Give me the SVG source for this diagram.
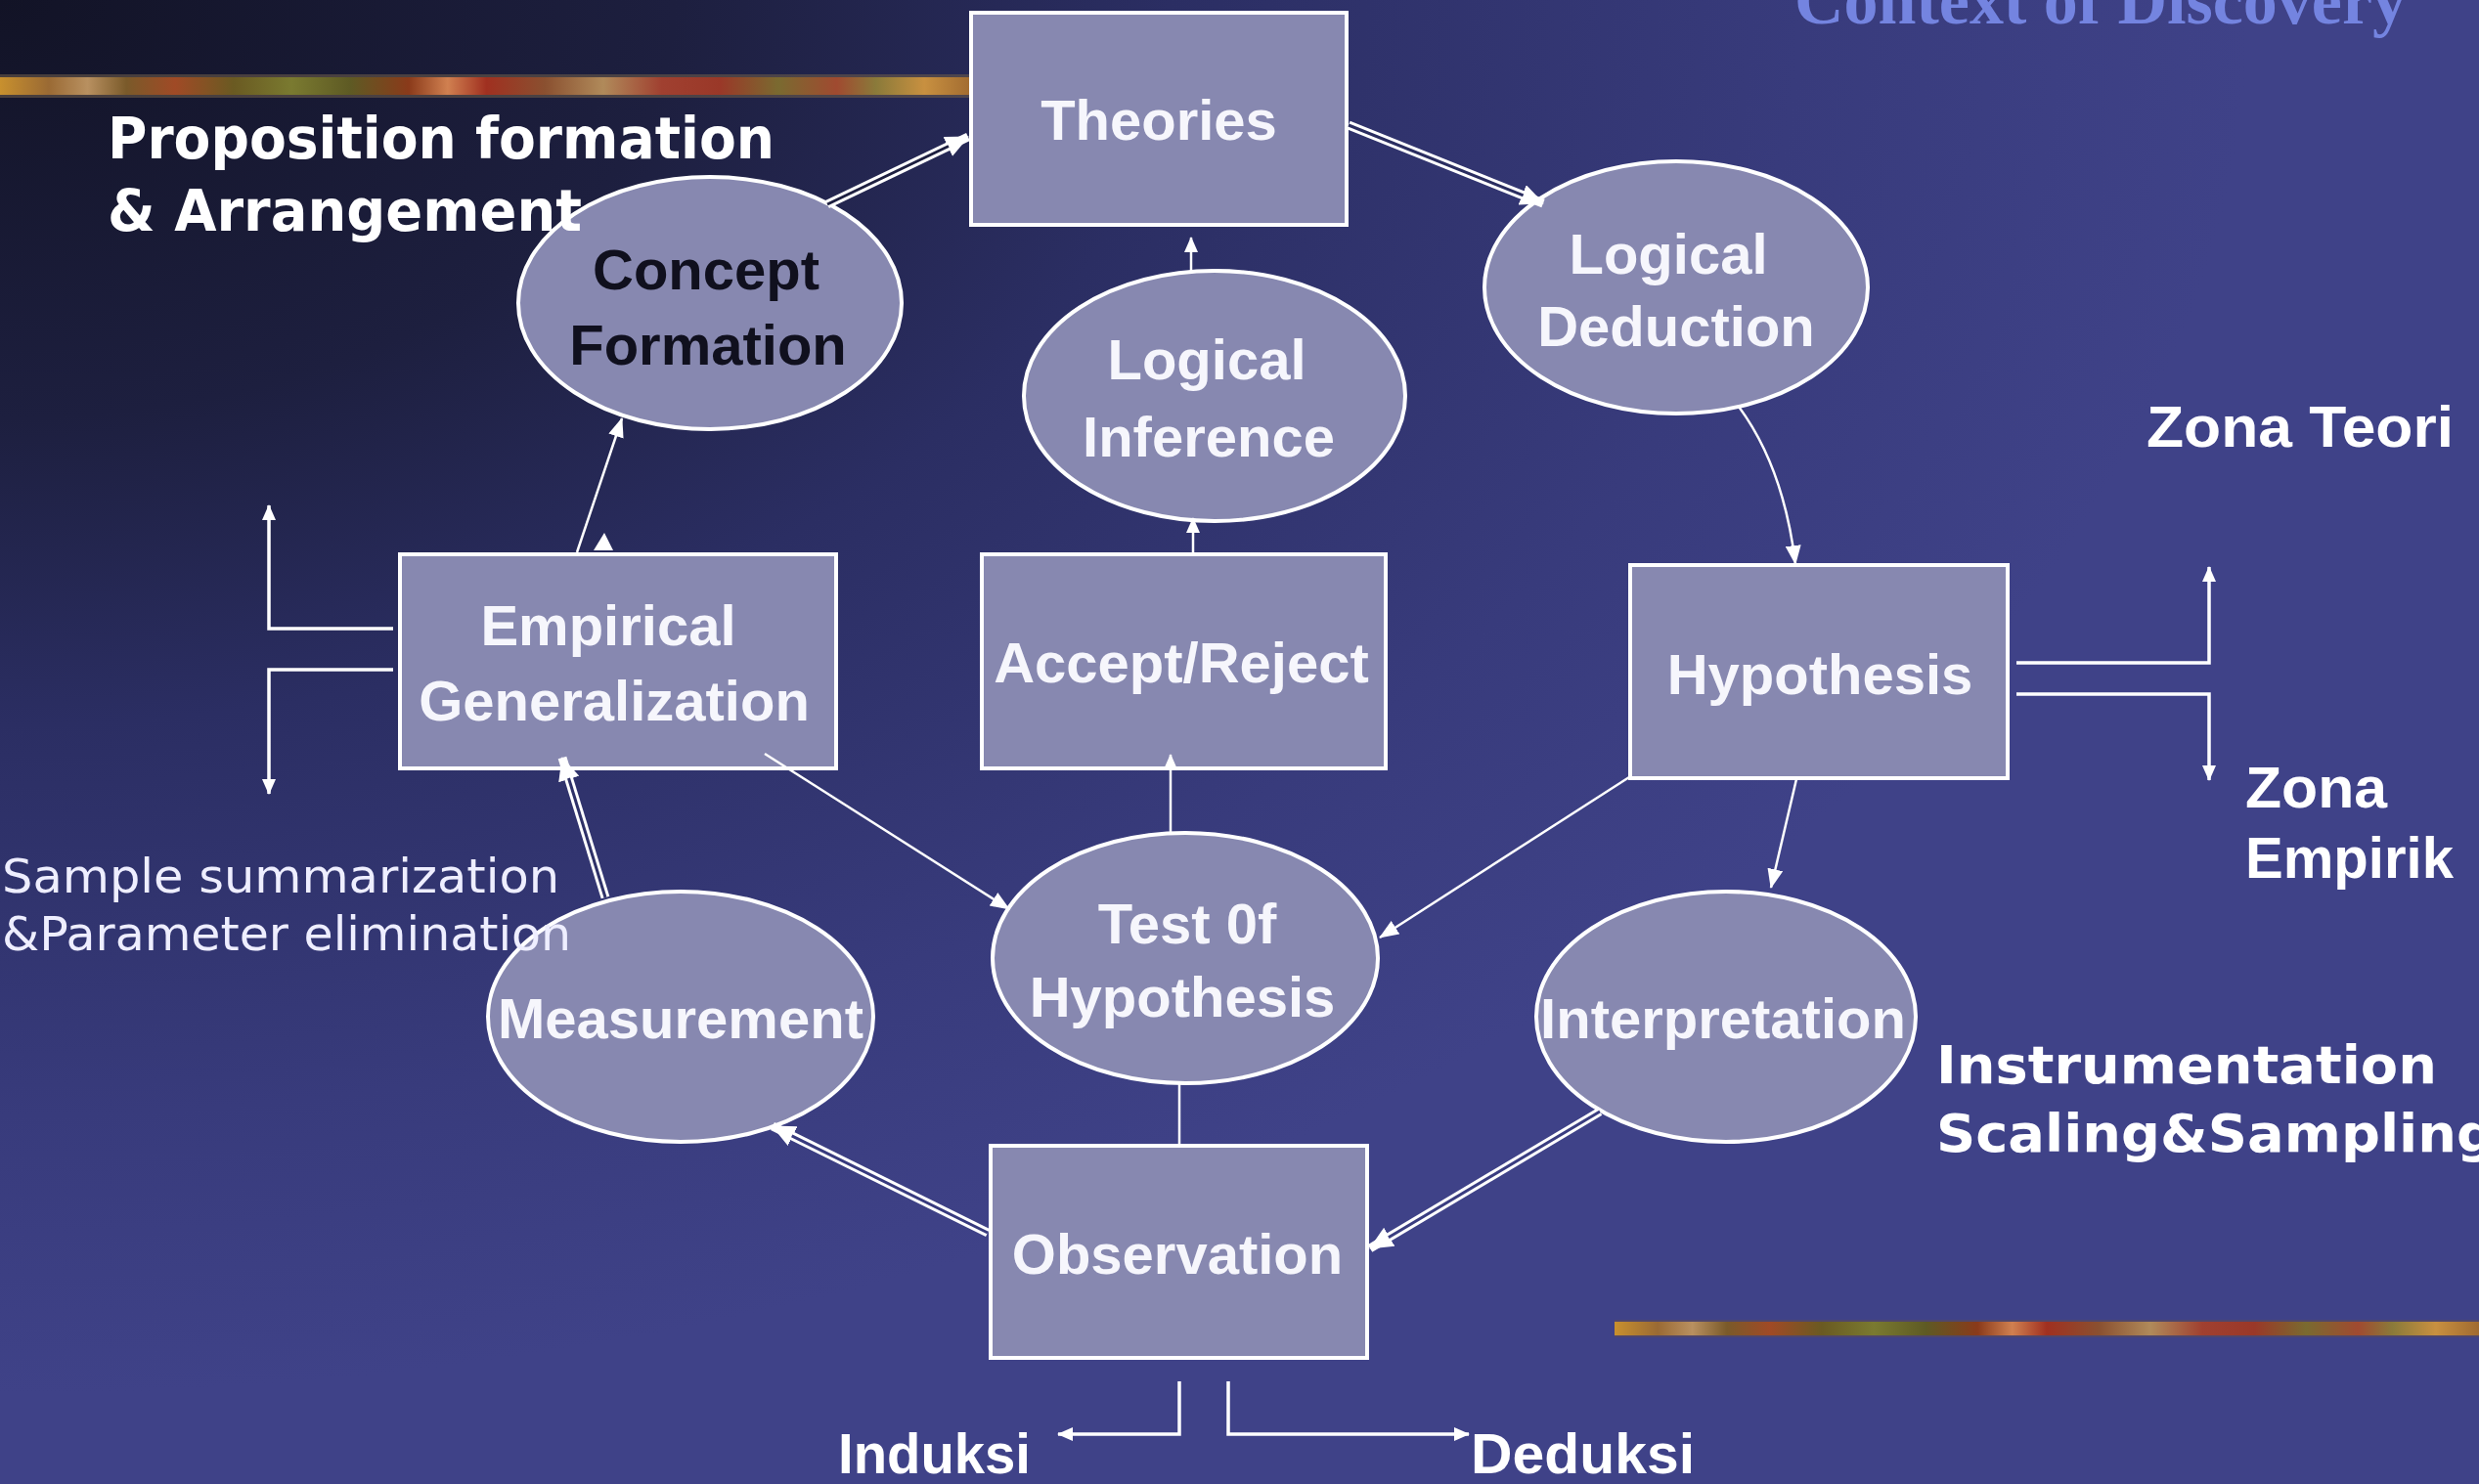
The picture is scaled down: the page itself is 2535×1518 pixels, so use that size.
<svg xmlns="http://www.w3.org/2000/svg" width="2535" height="1518" viewBox="0 0 2535 1518">
<defs>
<radialGradient id="bg" gradientUnits="userSpaceOnUse" cx="0" cy="0" r="2300" gradientTransform="scale(1,0.62)">
<stop offset="0" stop-color="#121326"/>
<stop offset="0.3" stop-color="#1d1f3f"/>
<stop offset="0.52" stop-color="#2b2e63"/>
<stop offset="0.8" stop-color="#383b7c"/>
<stop offset="1" stop-color="#3f4288"/>
</radialGradient>
<linearGradient id="bar" x1="0" y1="0" x2="1" y2="0">
<stop offset="0" stop-color="#c8902e"/>
<stop offset="0.05" stop-color="#9a6a34"/>
<stop offset="0.09" stop-color="#b89060"/>
<stop offset="0.13" stop-color="#7a5a2a"/>
<stop offset="0.18" stop-color="#a04a26"/>
<stop offset="0.24" stop-color="#6a5a22"/>
<stop offset="0.3" stop-color="#7a7a30"/>
<stop offset="0.36" stop-color="#5e5a24"/>
<stop offset="0.42" stop-color="#8a3a1a"/>
<stop offset="0.46" stop-color="#d08050"/>
<stop offset="0.5" stop-color="#a03020"/>
<stop offset="0.56" stop-color="#8a5030"/>
<stop offset="0.62" stop-color="#b08a5a"/>
<stop offset="0.68" stop-color="#a04030"/>
<stop offset="0.74" stop-color="#9a3828"/>
<stop offset="0.8" stop-color="#7a6a30"/>
<stop offset="0.86" stop-color="#a04a30"/>
<stop offset="0.9" stop-color="#8a7a3a"/>
<stop offset="0.95" stop-color="#c89040"/>
<stop offset="1" stop-color="#a06a30"/>
</linearGradient>
<marker id="ah" viewBox="0 0 20 16" refX="19" refY="8" markerWidth="20" markerHeight="16" markerUnits="userSpaceOnUse" orient="auto">
<path d="M0,0 L20,8 L0,16 z" fill="#ffffff"/>
</marker>
<marker id="ahd" viewBox="0 0 24 22" refX="23" refY="11" markerWidth="24" markerHeight="22" markerUnits="userSpaceOnUse" orient="auto">
<path d="M0,0 L24,11 L0,22 z" fill="#ffffff"/>
</marker>
<marker id="ahs" viewBox="0 0 16 14" refX="15" refY="7" markerWidth="16" markerHeight="14" markerUnits="userSpaceOnUse" orient="auto">
<path d="M0,0 L16,7 L0,14 z" fill="#ffffff"/>
</marker>
<style>
.box{fill:#8788b0;stroke:#ffffff;stroke-width:4}
.nt{font-family:"Liberation Sans",Arial,sans-serif;font-weight:bold;font-size:58px;fill:#f6f6fc;text-anchor:middle}
.dark{fill:#10101e}
.lb{font-family:"DejaVu Sans",Verdana,sans-serif;font-weight:bold;fill:#ffffff}
.la{font-family:"Liberation Sans",Arial,sans-serif;font-weight:bold;fill:#ffffff}
.lt{font-family:"DejaVu Sans",Verdana,sans-serif;fill:#eeeeff}
.ttl{font-family:"Liberation Serif","Times New Roman",serif;font-weight:bold;fill:#7484e0}
.ln{fill:none;stroke:#ffffff;stroke-width:2.5}
.br{fill:none;stroke:#ffffff;stroke-width:3.5}
.dbl{fill:none;stroke:#ffffff;stroke-width:9}
.gap{fill:none;stroke-width:3}
</style>
</defs>

<rect x="0" y="0" width="2535" height="1518" fill="url(#bg)"/>
<rect x="0" y="76" width="995" height="24" fill="#6a5a4a" opacity="0.6"/>
<rect x="0" y="79" width="995" height="18" fill="url(#bar)"/>
<rect x="1651" y="1350" width="884" height="18" fill="#5a4a5a" opacity="0.6"/>
<rect x="1651" y="1352" width="884" height="14" fill="url(#bar)"/>

<text class="ttl" x="1835" y="24" font-size="70" textLength="626" lengthAdjust="spacingAndGlyphs">Context of Discovery</text>

<g id="theories"><rect class="box" x="993" y="13" width="384" height="217"/><text class="nt" x="1185" y="143">Theories</text></g>
<g id="concept-formation"><ellipse class="box" cx="726" cy="310" rx="196" ry="129"/><text class="nt dark" x="722" y="296">Concept</text><text class="nt dark" x="724" y="373">Formation</text></g>
<g id="logical-inference"><ellipse class="box" cx="1242" cy="405" rx="195" ry="128"/><text class="nt" x="1234" y="388">Logical</text><text class="nt" x="1236" y="467">Inference</text></g>
<g id="logical-deduction"><ellipse class="box" cx="1714" cy="294" rx="196" ry="129"/><text class="nt" x="1706" y="280">Logical</text><text class="nt" x="1714" y="354">Deduction</text></g>
<g id="empirical-generalization"><rect class="box" x="409" y="567" width="446" height="219"/><text class="nt" x="622" y="660">Empirical</text><text class="nt" x="628" y="737">Generalization</text></g>
<g id="accept-reject"><rect class="box" x="1004" y="567" width="413" height="219"/><text class="nt" x="1208" y="698">Accept/Reject</text></g>
<g id="hypothesis"><rect class="box" x="1667" y="578" width="386" height="218"/><text class="nt" x="1861" y="710">Hypothesis</text></g>
<g id="test-of-hypothesis"><ellipse class="box" cx="1212" cy="980" rx="197" ry="128"/><text class="nt" x="1214" y="965">Test 0f</text><text class="nt" x="1209" y="1040">Hypothesis</text></g>
<g id="measurement"><ellipse class="box" cx="696" cy="1040" rx="197" ry="128"/><text class="nt" x="696" y="1062">Measurement</text></g>
<g id="interpretation"><ellipse class="box" cx="1765" cy="1040" rx="194" ry="128"/><text class="nt" x="1762" y="1062">Interpretation</text></g>
<g id="observation"><rect class="box" x="1013" y="1172" width="385" height="217"/><text class="nt" x="1204" y="1303">Observation</text></g>

<g id="connectors">
<line class="dbl" x1="846" y1="209" x2="990" y2="140" marker-end="url(#ahd)"/>
<line class="gap" x1="846" y1="209" x2="970" y2="149.5" stroke="#1d1f40"/>
<line class="dbl" x1="1379" y1="128" x2="1578" y2="208" marker-end="url(#ahd)"/>
<line class="gap" x1="1379" y1="128" x2="1557.6" y2="199.8" stroke="#2a2d60"/>
<line class="dbl" x1="619" y1="918" x2="575" y2="775" marker-end="url(#ahd)"/>
<line class="gap" x1="619" y1="918" x2="581.5" y2="796" stroke="#2e3168"/>
<line class="dbl" x1="1636" y1="1137" x2="1401" y2="1277" marker-end="url(#ahd)"/>
<line class="gap" x1="1636" y1="1137" x2="1419.9" y2="1265.7" stroke="#393c80"/>
<line class="dbl" x1="1010" y1="1261" x2="790" y2="1152" marker-end="url(#ahd)"/>
<line class="gap" x1="1010" y1="1261" x2="809.7" y2="1161.8" stroke="#373a7e"/>

<line class="ln" x1="590" y1="565" x2="636" y2="428" stroke-width="3" marker-end="url(#ah)"/>
<polygon points="607,563 618,545 627,563" fill="#ffffff"/>
<line class="ln" x1="1837" y1="797" x2="1811" y2="908" stroke-width="3.5" marker-end="url(#ah)"/>
<line class="ln" x1="782" y1="771" x2="1032" y2="930" marker-end="url(#ah)"/>
<line class="ln" x1="1666" y1="795" x2="1411" y2="959" marker-end="url(#ah)"/>
<path class="ln" d="M1778,416 Q1824,478 1836,577" marker-end="url(#ah)"/>
<line class="ln" x1="1218" y1="277" x2="1218" y2="243" marker-end="url(#ahs)"/>
<line class="ln" x1="1220" y1="567" x2="1220" y2="530" marker-end="url(#ahs)"/>
<line class="ln" x1="1197" y1="852" x2="1197" y2="772" marker-end="url(#ahs)"/>
<line class="ln" x1="1206" y1="1109" x2="1206" y2="1172"/>
<path class="br" d="M1206,1413 V1467 H1082" marker-end="url(#ahs)"/>
<path class="br" d="M1256,1413 V1467 H1502" marker-end="url(#ahs)"/>
<path class="br" d="M402,643 H275 V517" marker-end="url(#ahs)"/>
<path class="br" d="M402,685 H275 V812" marker-end="url(#ahs)"/>
<path class="br" d="M2062,678 H2259 V580" marker-end="url(#ahs)"/>
<path class="br" d="M2062,710 H2259 V798" marker-end="url(#ahs)"/>
</g>

<text class="lb" x="110" y="162" font-size="58" textLength="682" lengthAdjust="spacingAndGlyphs">Proposition formation</text>
<text class="lb" x="110" y="236" font-size="58" textLength="485" lengthAdjust="spacingAndGlyphs">&amp; Arrangement</text>
<text class="la" x="2195" y="457" font-size="60" textLength="314" lengthAdjust="spacingAndGlyphs">Zona Teori</text>
<text class="la" x="2296" y="826" font-size="60" textLength="145" lengthAdjust="spacingAndGlyphs">Zona</text>
<text class="la" x="2296" y="898" font-size="60" textLength="213" lengthAdjust="spacingAndGlyphs">Empirik</text>
<text class="lt" x="2" y="913" font-size="48" textLength="570" lengthAdjust="spacingAndGlyphs">Sample summarization</text>
<text class="lt" x="2" y="972" font-size="48" textLength="582" lengthAdjust="spacingAndGlyphs">&amp;Parameter elimination</text>
<text class="lb" x="1980" y="1108" font-size="54" textLength="512" lengthAdjust="spacingAndGlyphs">Instrumentation</text>
<text class="lb" x="1980" y="1178" font-size="54" textLength="572" lengthAdjust="spacingAndGlyphs">Scaling&amp;Sampling</text>
<text class="la" x="857" y="1507" font-size="58" textLength="197" lengthAdjust="spacingAndGlyphs">Induksi</text>
<text class="la" x="1504" y="1507" font-size="58" textLength="229" lengthAdjust="spacingAndGlyphs">Deduksi</text>
</svg>
